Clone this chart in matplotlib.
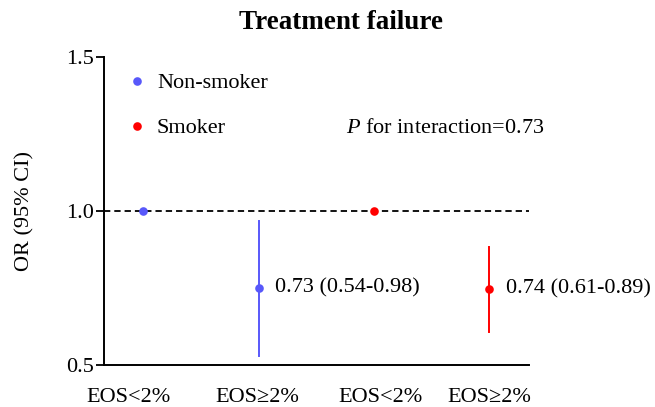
import matplotlib
matplotlib.use("Agg")
import matplotlib.pyplot as plt
from matplotlib.lines import Line2D

# ---- data ----
categories = ["EOS<2%", "EOS\u22652%", "EOS<2%", "EOS\u22652%"]
groups = ["Non-smoker", "Non-smoker", "Smoker", "Smoker"]
or_values = [1.0, 0.75, 1.0, 0.747]
ci_low = [1.0, 0.53, 1.0, 0.607]
ci_high = [1.0, 0.968, 1.0, 0.883]
annot_text = [None, "0.73 (0.54-0.98)", None, "0.74 (0.61-0.89)"]
group_colors = {"Non-smoker": "#5858FA", "Smoker": "#FF0000"}
yticks = [0.5, 1.0, 1.5]
p_text = "for interaction=0.73"

plt.rcParams['font.family'] = ['Liberation Serif', 'DejaVu Serif']
plt.rcParams['mathtext.fontset'] = 'custom'
plt.rcParams['mathtext.it'] = 'Liberation Serif:italic'

FS = 16

fig = plt.figure(figsize=(6.55, 4.07), dpi=100)
ax = fig.add_axes([0.1592, 0.1025, 0.6484, 0.7566])

x = list(range(len(categories)))
ax.axhline(1.0, color='black', lw=1.3, ls=(0, (3.5, 2.2)), zorder=1)

for i in x:
    c = group_colors[groups[i]]
    if ci_high[i] != ci_low[i]:
        ax.plot([i, i], [ci_low[i], ci_high[i]], color=c, lw=1.4, zorder=2)
    ax.plot([i], [or_values[i]], 'o', color=c, ms=6.2, mec='none', zorder=3)
    if annot_text[i]:
        ax.annotate(annot_text[i], (i, or_values[i]), xytext=(12, 0),
                    textcoords='offset points', va='center', ha='left', fontsize=FS)

ax.set_xlim(-0.338, 3.344)
ax.set_ylim(0.5, 1.5)
ax.set_yticks(yticks)
ax.set_yticklabels([f"{v:.1f}" for v in yticks], fontsize=FS)
label_offsets = [-0.128, -0.01, 0.06, 0.0]
ax.set_xticks([i + o for i, o in zip(x, label_offsets)])
ax.set_xticklabels(categories, fontsize=FS)
ax.tick_params(axis='x', length=0, pad=16.5)
ax.tick_params(axis='y', length=5.5, width=1.3, pad=2)
for s in ['top', 'right']:
    ax.spines[s].set_visible(False)
for s in ['left', 'bottom']:
    ax.spines[s].set_linewidth(1.4)

ax.set_ylabel("OR (95% CI)", fontsize=FS, labelpad=22.5)

handles = [Line2D([], [], ls='none', marker='o', ms=6.2, mec='none', color=group_colors[g])
           for g in ["Non-smoker", "Smoker"]]
ax.legend(handles, ["Non-smoker", "Smoker"], loc='upper left', bbox_to_anchor=(0.014, 1.0),
          frameon=False, fontsize=FS, handlelength=1.0, handletextpad=0.4,
          labelspacing=1.1, borderaxespad=0.3)

ax.text(0.57, 0.77, r"$\mathit{P}$ " + p_text, transform=ax.transAxes,
        fontsize=FS, va='center', ha='left')

fig.text(0.521, 0.944, "Treatment failure", ha='center', va='center',
         fontsize=19.5, fontweight='bold')

fig.savefig("out.png", dpi=100)
